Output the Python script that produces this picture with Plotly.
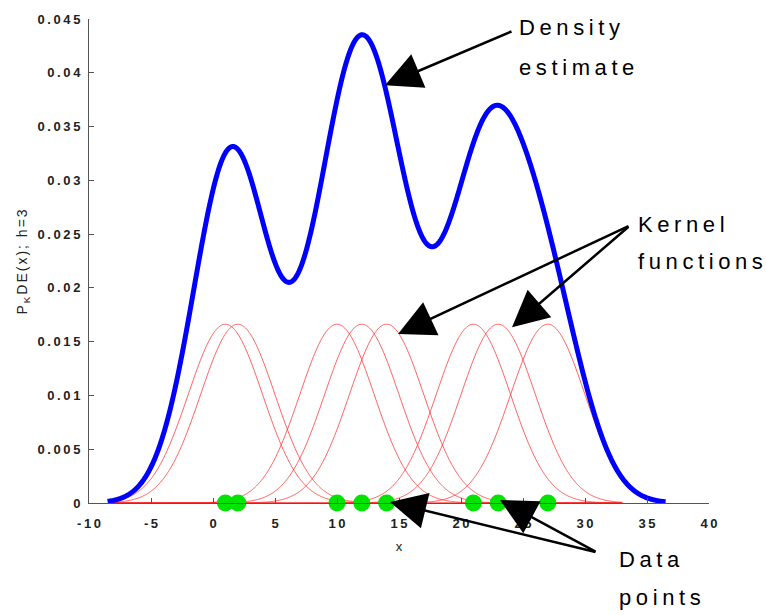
import numpy as np
import plotly.graph_objects as go

# Sample points and Gaussian kernel bandwidth
data_points = [1, 2, 10, 12, 14, 21, 23, 27]
bandwidth = 3

x_ticks = [-10, -5, 0, 5, 10, 15, 20, 25, 30, 35, 40]
y_ticks = [0, 0.005, 0.01, 0.015, 0.02, 0.025, 0.03, 0.035, 0.04, 0.045]
y_tick_text = ["0", "0.005", "0.01", "0.015", "0.02", "0.025", "0.03", "0.035", "0.04", "0.045"]

n = len(data_points)


def kernel(x, center, h):
    return np.exp(-0.5 * ((x - center) / h) ** 2) / (n * h * np.sqrt(2 * np.pi))


x_kern = np.linspace(-8, 33, 800)
x_dens = np.linspace(-8.5, 36.5, 900)
density = sum(kernel(x_dens, c, bandwidth) for c in data_points)

fig = go.Figure()

for c in data_points:
    fig.add_trace(go.Scatter(
        x=x_kern, y=kernel(x_kern, c, bandwidth), mode="lines",
        line=dict(color="rgba(255,40,40,0.75)", width=1, simplify=False),
        hoverinfo="skip", cliponaxis=False,
    ))

fig.add_trace(go.Scatter(
    x=x_dens, y=density, mode="lines",
    line=dict(color="#0000ff", width=5, simplify=False), cliponaxis=False,
))

fig.add_trace(go.Scatter(
    x=data_points, y=[0] * n, mode="markers",
    marker=dict(color="#00e400", size=17), cliponaxis=False,
))


def spaced(s, sp=1.5):
    return f'<span style="letter-spacing:{sp}px">{s}</span>'


def thin(s):
    # open up tick labels with thin spaces between characters
    return "\u2009".join(s)


FONT = "Liberation Sans, Arial, sans-serif"
label_font = dict(family=FONT, size=22, color="black")

# plot area in pixels: x 89..709, y 13..503
PX_L, PX_R, PX_T, PX_B = 89, 709, 13, 503


def paper_x(p):
    return (p - PX_L) / (PX_R - PX_L)


def paper_y(p):
    return (PX_B - p) / (PX_B - PX_T)


def px_x(p):
    return (p - PX_L) / 12.4 - 10


def px_y(p):
    return (PX_B - p) * 0.045 / (PX_B - PX_T)


labels = [
    ("Density", 517, 22), ("estimate", 517, 62),
    ("Kernel", 636, 221), ("functions", 636, 259),
    ("Data", 617, 560), ("points", 617, 599),
]

annotations = []
for text, px, py in labels:
    annotations.append(dict(
        x=paper_x(px), y=paper_y(py), xref="paper", yref="paper", text=spaced(text, 4.6),
        showarrow=False, xanchor="left", yanchor="middle", font=label_font,
    ))

arrows = [
    ((513, 25), (385, 80)),
    ((630, 222), (398, 332)),
    ((630, 222), (512, 325)),
    ((597, 553), (390, 502)),
    ((597, 553), (500, 500)),
]
for (tx, ty), (hx, hy) in arrows:
    annotations.append(dict(
        x=px_x(hx), y=px_y(hy), ax=px_x(tx), ay=px_y(ty),
        xref="x", yref="y", axref="x", ayref="y", text="",
        showarrow=True, arrowhead=2, arrowsize=2.9, arrowwidth=2.5,
        arrowcolor="black",
    ))

tick_font = dict(family=FONT, size=13, color="#222", weight="bold")

fig.update_layout(
    width=766, height=615,
    margin=dict(l=PX_L, r=766 - PX_R, t=PX_T, b=615 - PX_B),
    paper_bgcolor="white", plot_bgcolor="white",
    showlegend=False,
    annotations=annotations,
    xaxis=dict(
        range=[-10, 40], tickmode="array", tickvals=x_ticks,
        ticktext=[thin(str(v)) for v in x_ticks],
        ticks="inside", ticklen=5, tickcolor="#555", ticklabelstandoff=8,
        showline=True, linecolor="#555", linewidth=1,
        showgrid=False, zeroline=False, tickfont=tick_font,
        title=dict(text="x", font=dict(family=FONT, size=13, color="#222"), standoff=12),
    ),
    yaxis=dict(
        range=[0, 0.045], tickmode="array", tickvals=y_ticks,
        ticktext=[thin(t) for t in y_tick_text],
        ticks="inside", ticklen=5, tickcolor="#555", ticklabelstandoff=5,
        showline=True, linecolor="#555", linewidth=1,
        showgrid=False, zeroline=False, tickfont=tick_font,
        title=dict(text=spaced("P<sub>K</sub>DE(x); h=3", 2),
                   font=dict(family=FONT, size=14, color="#222"), standoff=6),
    ),
)

fig.write_html("out.html")
